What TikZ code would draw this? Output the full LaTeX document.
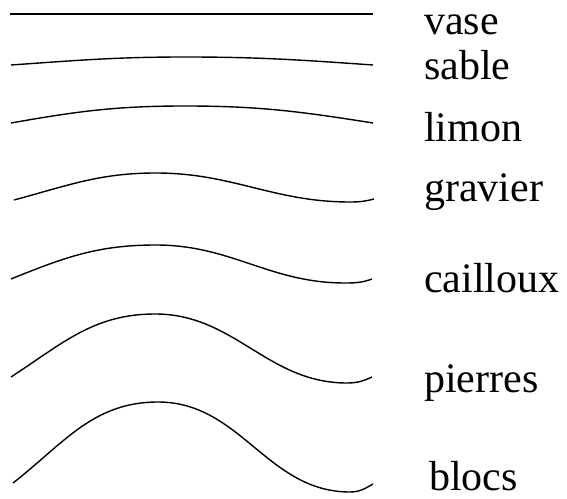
\documentclass[tikz,border=0pt]{standalone}
\usepackage{fontspec}
\setmainfont{Liberation Serif}
\usepackage{tikz}

\begin{document}
\begin{tikzpicture}[x=1pt,y=1pt,
    layer/.style={line width=1.4pt},
    soil/.style={anchor=base west,inner sep=0pt,font=\fontsize{42}{48}\selectfont}]
  \useasboundingbox (0,0) rectangle (567,498);
  \coordinate (v1) at (10,484);
  \coordinate (v2) at (373,484);
  \coordinate (s1) at (11,433);
  \coordinate (s2) at (185,441);
  \coordinate (s3) at (373,433);
  \coordinate (l1) at (11,375);
  \coordinate (l2) at (185,392);
  \coordinate (l3) at (373,375);
  \coordinate (g1) at (14,298);
  \coordinate (g2) at (156,325);
  \coordinate (g3) at (350,296);
  \coordinate (g4) at (374,299);
  \coordinate (c1) at (11,219);
  \coordinate (c2) at (156,253);
  \coordinate (c3) at (345,215);
  \coordinate (c4) at (372,219);
  \coordinate (p1) at (11,121);
  \coordinate (p2) at (155,184);
  \coordinate (p3) at (347,115);
  \coordinate (p4) at (372,121);
  \coordinate (b1) at (13,15);
  \coordinate (b2) at (158,96);
  \coordinate (b3) at (350,6);
  \coordinate (b4) at (373,14);
  \node[soil] (vase) at (424,463) {vase};
  \node[soil] (sable) at (424,418) {sable};
  \node[soil] (limon) at (424,356) {limon};
  \node[soil] (gravier) at (424,296) {gravier};
  \node[soil] (cailloux) at (424,205) {cailloux};
  \node[soil] (pierres) at (424,106) {pierres};
  \node[soil] (blocs) at (429,8) {blocs};
  \draw[line width=1.8pt] (v1) -- (v2);
  \draw[layer] (s1) to[out=4,in=180] (s2) to[out=0,in=176] (s3);
  \draw[layer] (l1) to[out=10,in=180] (l2) to[out=0,in=171] (l3);
  \draw[layer] (g1) to[out=15,in=180] (g2) to[out=0,in=180] (g3) to[out=0,in=195] (g4);
  \draw[layer] (c1) to[out=22,in=180] (c2) to[out=0,in=180] (c3) to[out=0,in=200] (c4);
  \draw[layer] (p1) to[out=33,in=180] (p2) to[out=0,in=180] (p3) to[out=0,in=205] (p4);
  \draw[layer] (b1) to[out=38,in=180] (b2) to[out=0,in=180] (b3) to[out=0,in=210] (b4);
\end{tikzpicture}
\end{document}
